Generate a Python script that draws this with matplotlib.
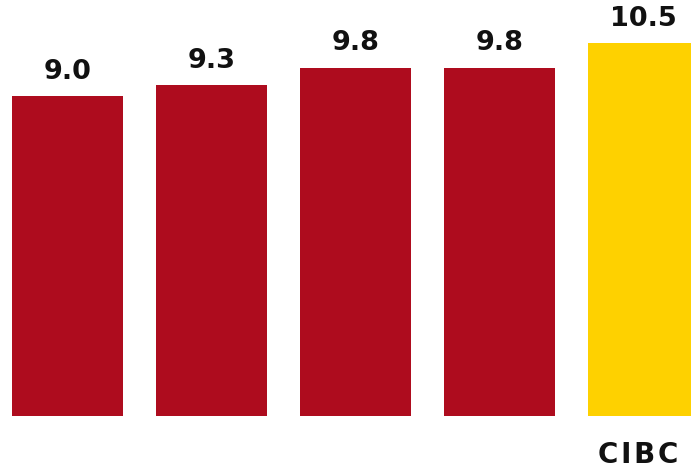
import matplotlib.pyplot as plt
import numpy as np

# data
categories = ['', '', '', '', 'CIBC']
values = [9.0, 9.3, 9.8, 9.8, 10.5]
colors = ['#ae0c1e', '#ae0c1e', '#ae0c1e', '#ae0c1e', '#fed100']

fig = plt.figure(figsize=(6.91, 4.73), dpi=100)
ax = fig.add_axes([0, 0, 1, 1])

x = np.arange(len(values))
ax.bar(x, values, width=111 / 144, color=colors)

# value labels above bars
for xi, v in zip(x, values):
    ax.text(xi, v + 0.68, f'{v:.1f}', ha='center', va='center',
            fontsize=19.5, fontweight='bold', color='#111111')

# category labels below (slightly letter-spaced like the original)
for xi, c in zip(x, categories):
    if c:
        ax.text(xi - 0.04, -1.12, '\u200a'.join(c), ha='center', va='center',
                fontsize=20, fontweight='bold', color='#111111')

ax.set_xlim(-67.5 / 144, (691 - 67.5) / 144)
ax.set_ylim(-57.5 / 35.5, 415.5 / 35.5)
ax.axis('off')

fig.savefig('out.png', dpi=100)
